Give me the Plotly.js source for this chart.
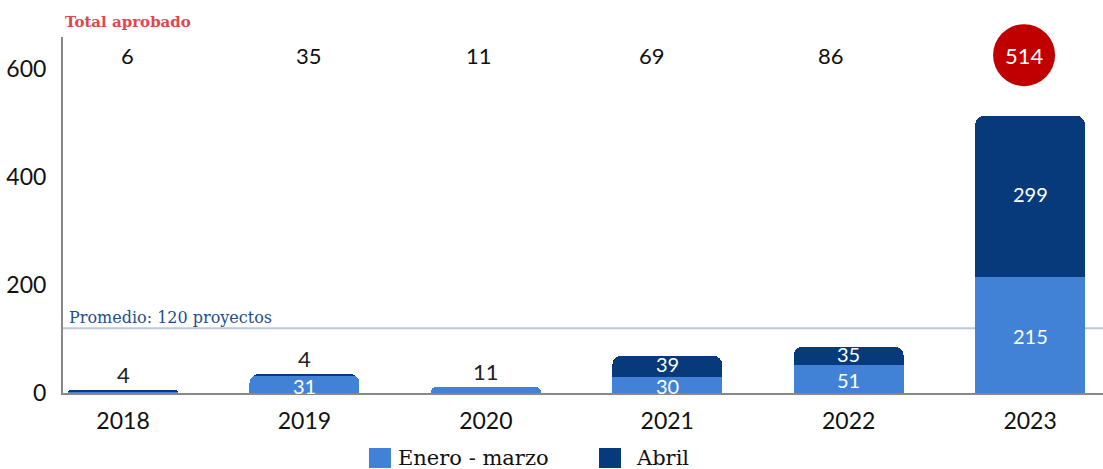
<!DOCTYPE html>
<html>
<head>
<meta charset="utf-8">
<script src="https://cdn.plot.ly/plotly-3.0.1.min.js"></script>
<style>html,body{margin:0;padding:0;background:#fff;}#chart{width:1103px;height:469px;}</style>
</head>
<body>
<div id="chart"></div>
<script>
const years = ['2018', '2019', '2020', '2021', '2022', '2023'];
const eneroMarzo = [2, 31, 11, 30, 51, 215];
const abril = [4, 4, 0, 39, 35, 299];
const totals = [6, 35, 11, 69, 86, 514];
const outsideLabels = ['4', '4', '11', '', '', ''];
const promedio = 120;
const seriesNames = ['Enero - marzo', 'Abril'];
const yTicks = [0, 200, 400, 600];

// horizontal pixel nudges of the "Total aprobado" row (layout only)
const totalsShift = [4, 5, -7, -15, -18, -6];

const cLight = '#4282d6';
const cDark = '#063a7a';
const minInside = 20;

const traces = [
  {
    type: 'bar', name: seriesNames[0], x: years, y: eneroMarzo,
    marker: {color: cLight}, width: 0.606, hoverinfo: 'none'
  },
  {
    type: 'bar', name: seriesNames[1], x: years, y: abril,
    marker: {color: cDark}, width: 0.606, hoverinfo: 'none'
  }
];

const annotations = [];
const shapes = [];
const totalsY = 0.949;
const labelFont = {family: 'Lato', size: 20, color: '#ffffff'};
years.forEach((yr, i) => {
  const isMax = totals[i] === Math.max(...totals);
  annotations.push({
    x: i, xref: 'x', y: totalsY, yref: 'paper', text: String(totals[i]),
    showarrow: false, xanchor: 'center', yanchor: 'middle', xshift: totalsShift[i],
    font: {family: 'Lato', size: 22, color: isMax ? '#ffffff' : '#111111'}
  });
  if (isMax) {
    shapes.push({
      type: 'circle', xref: 'x', yref: 'paper', xsizemode: 'pixel', ysizemode: 'pixel',
      xanchor: i, yanchor: totalsY, x0: totalsShift[i] - 31, x1: totalsShift[i] + 31, y0: -31, y1: 31,
      fillcolor: '#c00000', line: {width: 0}, layer: 'below'
    });
  }
  if (eneroMarzo[i] >= minInside) {
    annotations.push({
      x: i, xref: 'x', y: eneroMarzo[i] / 2, yref: 'y', text: String(eneroMarzo[i]),
      showarrow: false, xanchor: 'center', yanchor: 'middle', font: labelFont,
      borderpad: 0, yshift: -1
    });
  }
  if (abril[i] >= minInside) {
    annotations.push({
      x: i, xref: 'x', y: eneroMarzo[i] + abril[i] / 2, yref: 'y', text: String(abril[i]),
      showarrow: false, xanchor: 'center', yanchor: 'middle', font: labelFont,
      borderpad: 0, yshift: 2
    });
  }
  if (outsideLabels[i]) {
    annotations.push({
      x: i, xref: 'x', y: eneroMarzo[i] + abril[i], yref: 'y', text: outsideLabels[i],
      showarrow: false, xanchor: 'center', yanchor: 'bottom', yshift: 0,
      font: {family: 'Lato', size: 22, color: '#222222'}
    });
  }
});

annotations.push({
  x: 0, xref: 'paper', y: 1.042, yref: 'paper', text: '<b>Total aprobado</b>',
  showarrow: false, xanchor: 'left', yanchor: 'middle',
  font: {family: 'DejaVu Serif', size: 15, color: '#e0474c'}
});
annotations.push({
  x: 0, xref: 'paper', y: promedio, yref: 'y', text: 'Promedio: 120 proyectos',
  showarrow: false, xanchor: 'left', yanchor: 'bottom', xshift: 4, yshift: -1,
  font: {family: 'DejaVu Serif', size: 16, color: '#1f4e8c'}
});

shapes.push({
  type: 'line', xref: 'paper', yref: 'y', x0: 0, x1: 1, y0: promedio, y1: promedio,
  line: {color: '#b9c8d8', width: 2}, layer: 'below'
});

const legendItems = [
  {name: seriesNames[0], color: cLight, x: 0.2942, gap: 29},
  {name: seriesNames[1], color: cDark, x: 0.5154, gap: 37}
];
legendItems.forEach(it => {
  shapes.push({
    type: 'rect', xref: 'paper', yref: 'paper', xsizemode: 'pixel', ysizemode: 'pixel',
    xanchor: it.x, yanchor: -0.1826, x0: 0, x1: 22, y0: -10, y1: 10,
    fillcolor: it.color, line: {width: 0}
  });
  annotations.push({
    x: it.x, xref: 'paper', y: -0.1826, yref: 'paper', text: it.name,
    showarrow: false, xanchor: 'left', yanchor: 'middle', xshift: it.gap - 2,
    font: {family: 'DejaVu Serif', size: 21, color: '#111111'}
  });
});

const layout = {
  width: 1103, height: 469,
  margin: {l: 63, r: 0, t: 37, b: 76},
  paper_bgcolor: '#ffffff', plot_bgcolor: '#ffffff',
  barmode: 'stack', barcornerradius: 9,
  showlegend: false,
  xaxis: {
    type: 'category', range: [-0.331, 5.402], showgrid: false, zeroline: false,
    showline: true, linecolor: '#888888', linewidth: 2,
    ticks: '', tickfont: {family: 'Lato', size: 23, color: '#111111'},
    ticklabelstandoff: 6, fixedrange: true
  },
  yaxis: {
    range: [0, 660], tickvals: yTicks, showgrid: false, zeroline: false,
    showline: true, linecolor: '#888888', linewidth: 2,
    ticks: '', tickfont: {family: 'Lato', size: 23, color: '#111111'},
    ticklabelstandoff: 10, fixedrange: true
  },
  annotations: annotations,
  shapes: shapes
};

Plotly.newPlot('chart', traces, layout, {displayModeBar: false, staticPlot: true});
</script>
</body>
</html>
